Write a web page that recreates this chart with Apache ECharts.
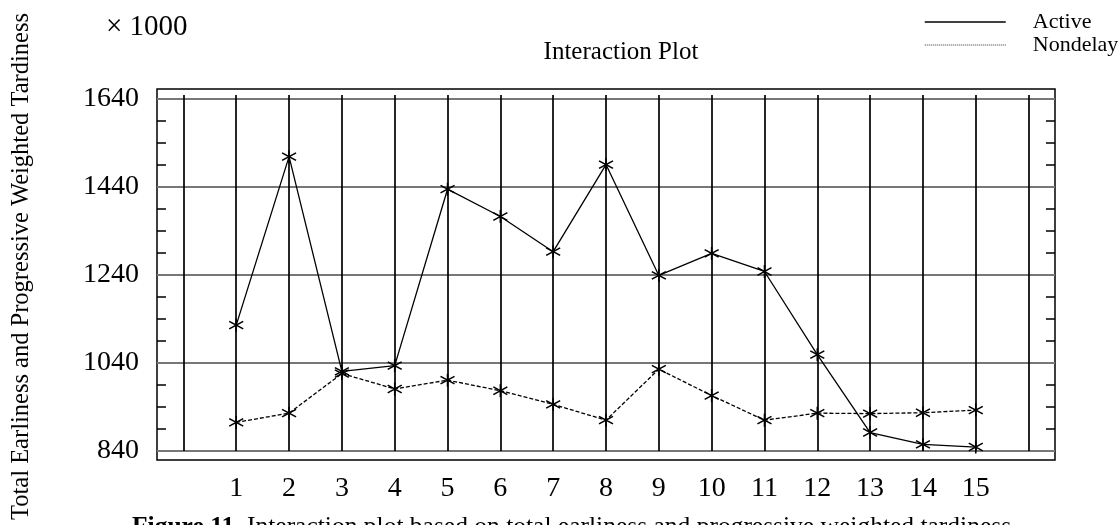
<!DOCTYPE html>
<html>
<head>
<meta charset="utf-8">
<script src="https://cdn.jsdelivr.net/npm/echarts@6/dist/echarts.min.js"></script>
<style>
html, body { margin: 0; padding: 0; background: #fff; }
#chart { width: 1120px; height: 525px; }
</style>
</head>
<body>
<div id="chart"></div>
<script>
var categories = ['1', '2', '3', '4', '5', '6', '7', '8', '9', '10', '11', '12', '13', '14', '15'];
var active = [1126, 1509, 1021, 1034, 1435, 1373, 1293, 1491, 1239, 1289, 1248, 1059, 882, 855, 849];
var nondelay = [905, 926, 1016, 981, 1001, 977, 946, 910, 1026, 966, 910, 926, 925, 927, 933];
var yTicks = [840, 1040, 1240, 1440, 1640];

var FONT = 'Liberation Serif';
var STAR = 'path://M0,-6L0,6M-6,-3.5L6,3.5M-6,3.5L6,-3.5';

// empty slot on each side, the plot has a blank column at both ends
var axisCats = [''].concat(categories, ['']);

function pairs(vals) {
    return categories.map(function (c, i) { return [c, vals[i]]; });
}

function makeSerie(name, vals, lineType) {
    return {
        name: name,
        type: 'line',
        xAxisIndex: 1,
        yAxisIndex: 1,
        data: pairs(vals),
        symbol: STAR,
        symbolSize: [14, 13],
        showAllSymbol: true,
        lineStyle: { color: '#000', width: 1.3, type: lineType },
        itemStyle: { color: 'rgba(0,0,0,0)', borderColor: '#000', borderWidth: 1.5 },
        emphasis: { disabled: true },
        animation: false
    };
}

function makeYAxis(pos, withLabels) {
    return {
        gridIndex: 1, type: 'value', position: pos,
        min: yTicks[0], max: yTicks[yTicks.length - 1], interval: yTicks[1] - yTicks[0],
        axisLine: { show: false },
        axisTick: { show: true, inside: true, length: 9, lineStyle: { color: '#777', width: 2 } },
        minorTick: { show: true, splitNumber: 4, length: 9, lineStyle: { color: '#000', width: 1.5 } },
        axisLabel: {
            show: withLabels, margin: 18, fontFamily: FONT, fontSize: 28, color: '#000',
            formatter: function (v) { return String(v); }
        },
        splitLine: { show: withLabels, lineStyle: { color: '#777', width: 2 } }
    };
}

var chart = echarts.init(document.getElementById('chart'));

var option = {
    animation: false,
    textStyle: { fontFamily: FONT },
    title: [
        {
            text: 'Interaction Plot',
            left: 616, textAlign: 'center', top: 35,
            textStyle: { fontFamily: FONT, fontSize: 25, fontWeight: 'normal', color: '#000' }
        },
        {
            text: '\u00d7 1000',
            left: 101, top: 8,
            textStyle: { fontFamily: FONT, fontSize: 29, fontWeight: 'normal', color: '#000' }
        },
        {
            text: '{b|Figure 11.} Interaction plot based on total earliness and progressive weighted tardiness',
            left: 127, top: 509,
            textStyle: {
                fontFamily: FONT, fontSize: 25.5, fontWeight: 'normal', color: '#000',
                rich: { b: { fontFamily: FONT, fontSize: 25.5, fontWeight: 'bold', color: '#000' } }
            }
        }
    ],
    legend: {
        orient: 'vertical',
        left: 919, top: 6,
        itemWidth: 81, itemHeight: 14, itemGap: 1,
        selectedMode: false,
        itemStyle: { color: 'rgba(0,0,0,0)', borderColor: 'rgba(0,0,0,0)', borderWidth: 0, opacity: 0 },
        textStyle: { fontFamily: FONT, fontSize: 22, color: '#000', lineHeight: 22, padding: [0, 0, 0, 22] },
        data: [
            { name: 'Active', lineStyle: { color: '#000', width: 1.5, type: 'solid' } },
            { name: 'Nondelay', lineStyle: { color: '#333', width: 1, type: [1, 1] } }
        ]
    },
    grid: [
        // outer frame
        {
            left: 157, right: 65, top: 89, bottom: 65, outerBoundsMode: 'none', containLabel: false,
            show: true, borderColor: '#000', borderWidth: 1.5, backgroundColor: 'rgba(0,0,0,0)'
        },
        // data area
        { left: 157, right: 65, top: 99, bottom: 74, outerBoundsMode: 'none', containLabel: false }
    ],
    xAxis: [
        { gridIndex: 0, type: 'value', show: false },
        {
            gridIndex: 1,
            type: 'category',
            data: axisCats,
            boundaryGap: true,
            axisLine: { show: false },
            axisTick: {
                show: true, interval: 0, alignWithLabel: true, inside: true, length: 356,
                lineStyle: { color: '#000', width: 1.7 }
            },
            axisLabel: { interval: 0, margin: 24, fontFamily: FONT, fontSize: 28, color: '#000' },
            splitLine: { show: false }
        }
    ],
    yAxis: [
        {
            gridIndex: 0, type: 'value', min: 0, max: 1,
            axisLine: { show: false }, axisTick: { show: false }, axisLabel: { show: false },
            splitLine: { show: false },
            name: 'Total Earliness and Progressive Weighted Tardiness',
            nameLocation: 'middle', nameRotate: 90, nameGap: 123,
            nameTextStyle: { fontFamily: FONT, fontSize: 24.5, color: '#000', padding: [0, 0, 0, 16] }
        },
        makeYAxis('left', true),
        makeYAxis('right', false)
    ],
    series: [
        makeSerie('Active', active, 'solid'),
        makeSerie('Nondelay', nondelay, [4, 2])
    ]
};

chart.setOption(option);
</script>
</body>
</html>
